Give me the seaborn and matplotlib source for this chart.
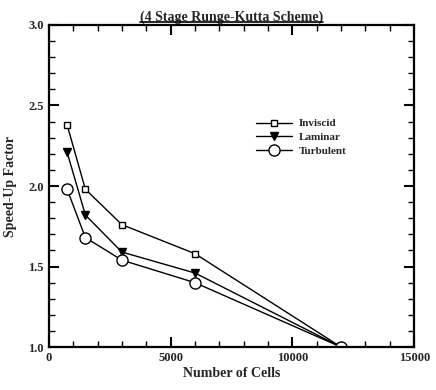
import matplotlib
matplotlib.use("Agg")
import matplotlib.pyplot as plt
from matplotlib.ticker import MultipleLocator
import seaborn as sns
import pandas as pd

cells = [750, 1500, 3000, 6000, 12000]
inviscid = [2.38, 1.98, 1.76, 1.58, 1.0]
laminar = [2.21, 1.82, 1.59, 1.46, 1.0]
turbulent = [1.98, 1.68, 1.54, 1.40, 1.0]
series_names = ["Inviscid", "Laminar", "Turbulent"]

df = pd.DataFrame({
    "cells": cells * 3,
    "speedup": inviscid + laminar + turbulent,
    "series": sum([[n] * len(cells) for n in series_names], []),
})

sns.set_style("ticks")
plt.rcParams["font.family"] = ["Liberation Serif", "DejaVu Serif"]

fig = plt.figure(figsize=(4.36, 3.9), dpi=100)
ax = fig.add_axes([0.112, 0.110, 0.838, 0.826])

markers = {"Inviscid": "s", "Laminar": "v", "Turbulent": "o"}
sizes = {"Inviscid": 5, "Laminar": 6, "Turbulent": 8}
fills = {"Inviscid": "white", "Laminar": "black", "Turbulent": "white"}
for name in series_names:
    sub = df[df["series"] == name]
    sns.lineplot(data=sub, x="cells", y="speedup", ax=ax, color="black",
                 lw=1.0, marker=markers[name], markersize=sizes[name],
                 markerfacecolor=fills[name], markeredgecolor="black",
                 markeredgewidth=1.0, label=name)

ax.set_xlim(0, 15000)
ax.set_ylim(1.0, 3.0)
ax.xaxis.set_major_locator(MultipleLocator(5000))
ax.xaxis.set_minor_locator(MultipleLocator(1000))
ax.yaxis.set_major_locator(MultipleLocator(0.5))
ax.yaxis.set_minor_locator(MultipleLocator(0.1))
ax.tick_params(which="both", direction="in", top=True, right=True, color="black")
ax.tick_params(which="major", length=7, width=1.5, labelsize=9)
ax.tick_params(which="minor", length=4, width=1.0)
for lab in ax.get_xticklabels() + ax.get_yticklabels():
    lab.set_fontweight("bold")
for s in ax.spines.values():
    s.set_linewidth(1.6)
    s.set_color("black")

ax.set_xlabel("Number of Cells", fontsize=10, fontweight="bold", labelpad=2)
ax.set_ylabel("Speed-Up Factor", fontsize=10, fontweight="bold", labelpad=8)
ax.set_title("(4 Stage Runge-Kutta Scheme)", fontsize=10, fontweight="bold", pad=3)

leg = ax.legend(loc="upper left", bbox_to_anchor=(0.54, 0.74), frameon=False,
                handlelength=3.2, fontsize=8, labelspacing=0.35, handletextpad=0.6)
for t in leg.get_texts():
    t.set_fontweight("bold")

# underline the title
fig.canvas.draw()
bb = ax.title.get_window_extent()
inv = fig.transFigure.inverted()
(x0, y0) = inv.transform((bb.x0, bb.y0))
(x1, _) = inv.transform((bb.x1, bb.y0))
fig.add_artist(plt.Line2D([x0, x1], [y0 + 0.004, y0 + 0.004], color="black", lw=1.2,
                          transform=fig.transFigure))

fig.savefig("out.png", dpi=100)
